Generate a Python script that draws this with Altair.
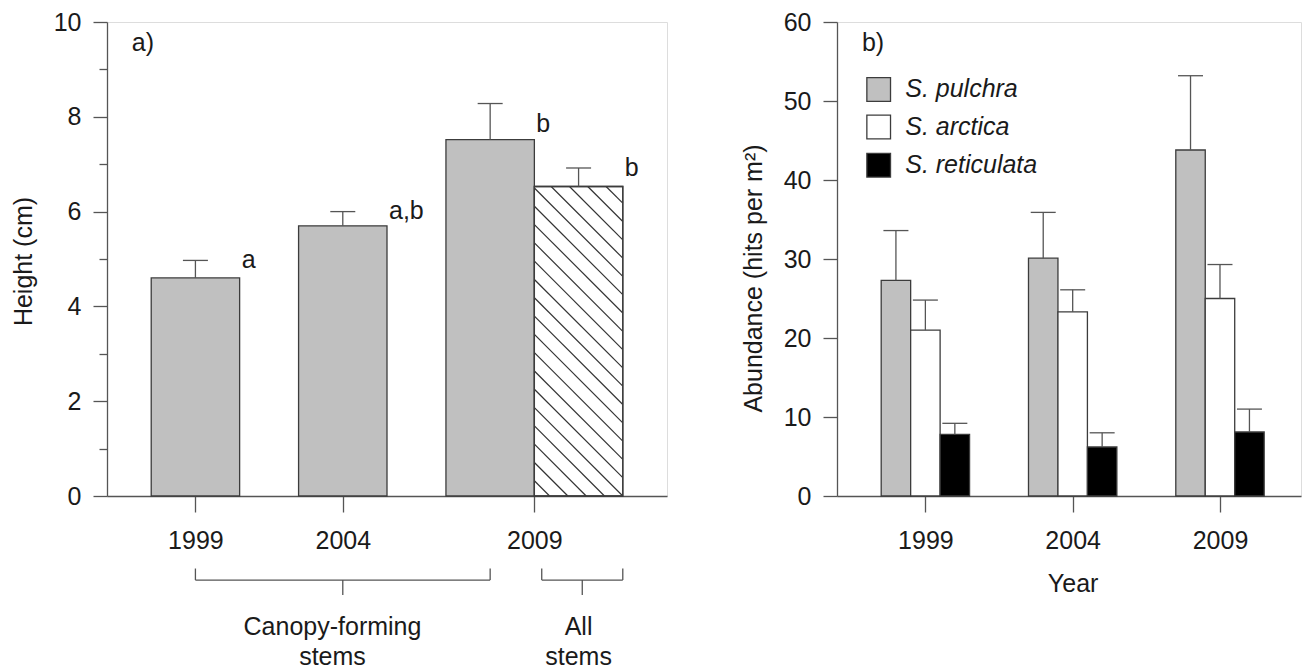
import altair as alt
import pandas as pd
import numpy as np

FONT = "Liberation Sans"

# ---------------- Panel a) data ----------------
a_years = ["1999", "2004", "2009", "2009"]
a_stems = ["Canopy-forming", "Canopy-forming", "Canopy-forming", "All"]
a_pos = [1.0, 2.0, 3.0, 3.6]
a_height = [4.60, 5.70, 7.52, 6.53]
a_se = [0.37, 0.30, 0.76, 0.39]
a_letters = ["a", "a,b", "b", "b"]
a_letter_y = [4.97, 6.02, 7.84, 6.91]
a_hatched = [False, False, False, True]
a_tick_pos = [1.0, 2.0, 3.3]
a_tick_lab = ["1999", "2004", "2009"]
a_group_name = [["Canopy-forming", "stems"], ["All", "stems"]]
a_group_from = [1.0, 3.35]
a_group_to = [3.0, 3.9]
a_group_mid = [2.0, 3.625]
a_group_text_x = [1.93, 3.6]

# ---------------- Panel b) data ----------------
b_years = ["1999", "2004", "2009"]
b_species = ["S. pulchra", "S. arctica", "S. reticulata"]
b_pulchra = [27.3, 30.1, 43.8]
b_pulchra_se = [6.3, 5.8, 9.4]
b_arctica = [21.0, 23.3, 25.0]
b_arctica_se = [3.8, 2.8, 4.3]
b_reticulata = [7.8, 6.2, 8.1]
b_reticulata_se = [1.4, 1.8, 2.9]

# ---------------- layout / style ----------------
W_A, W_B, H = 560, 464, 474
XA = [0.4, 4.2]
XB = [0.4, 3.55]
YA = [0, 10]
YB = [0, 60]
BAR_A = 0.6
BAR_B = 0.2
CAP_PX = 12.5
HATCH_PX = 18.3
GRAY = "#c0c0c0"
EDGE = "#3c3c3c"
AXC = "#555555"
TXT = "#1a1a1a"
B_FILLS = ["#c0c0c0", "#ffffff", "#000000"]

ppx_a = W_A / (XA[1] - XA[0])
ppx_b = W_B / (XB[1] - XB[0])
ppy_a = H / (YA[1] - YA[0])
ppy_b = H / (YB[1] - YB[0])


def y_axis(title, major, minor, tx, ty):
    return alt.Axis(
        title=title, values=list(np.arange(0, 1 + (major * 5 if major == 2 else 60), minor)),
        labelExpr=f"datum.value % {major} === 0 ? datum.label : ''",
        tickSize={"condition": {"test": f"datum.value % {major} === 0", "value": 14}, "value": 8},
        labelPadding=12, labelFontSize=25, labelFont=FONT, labelColor=TXT,
        titleFontSize=25, titleFont=FONT, titleFontWeight="normal", titleColor=TXT,
        titleX=tx, titleY=ty, titleAngle=-90, titleBaseline="middle", titleAlign="center",
        domainColor=AXC, tickColor=AXC, domainWidth=1.3, tickWidth=1.3, grid=False,
    )


def x_axis(tick_pos, tick_lab, title=None, tx=None, ty=None):
    expr = " : ".join(f"datum.value === {p} ? '{l}'" for p, l in zip(tick_pos, tick_lab)) + " : ''"
    kw = dict(title=title, values=tick_pos, labelExpr=expr, tickSize=16, labelPadding=16,
              labelFontSize=25, labelFont=FONT, labelColor=TXT, domainColor=AXC, tickColor=AXC,
              domainWidth=1.3, tickWidth=1.3, grid=False, labelFlush=False)
    if title:
        kw.update(titleFontSize=25, titleFont=FONT, titleFontWeight="normal", titleColor=TXT,
                  titleX=tx, titleY=ty, titleBaseline="middle", titleAlign="center")
    return alt.Axis(**kw)


# ---------------- Panel a) ----------------
dfa = pd.DataFrame(dict(year=a_years, stems=a_stems, pos=a_pos, h=a_height, se=a_se,
                        letter=a_letters, ly=a_letter_y, hatched=a_hatched))
dfa["x0"] = dfa["pos"] - BAR_A / 2
dfa["x1"] = dfa["pos"] + BAR_A / 2
dfa["top"] = dfa["h"] + dfa["se"]
dfa["c0"] = dfa["pos"] - CAP_PX / ppx_a
dfa["c1"] = dfa["pos"] + CAP_PX / ppx_a
dfa["fill"] = np.where(dfa["hatched"], "#ffffff", GRAY)

xa = alt.X("x0:Q", scale=alt.Scale(domain=XA, nice=False, zero=False),
           axis=x_axis(a_tick_pos, a_tick_lab))
ya = alt.Y("h:Q", scale=alt.Scale(domain=YA, nice=False),
           axis=y_axis("Height (cm)", 2, 1, 23 - 107, 260.5 - 21.5))

base_a = alt.Chart(dfa)
bars_a = base_a.mark_rect(stroke=EDGE, strokeWidth=1.3).encode(
    x=xa, x2="x1:Q", y=ya, y2=alt.datum(0), fill=alt.Fill("fill:N", scale=None))

# hatch lines for the hatched bar(s), derived from the bar extents
hatch_rows = []
for _, r in dfa[dfa["hatched"]].iterrows():
    wpx = (r["x1"] - r["x0"]) * ppx_a
    hpx = r["h"] * ppy_a
    for k in range(int(np.floor(-wpx / HATCH_PX)), int(np.ceil(hpx / HATCH_PX)) + 1):
        c = k * HATCH_PX
        if c <= -wpx or c >= hpx:
            continue
        u0, u1 = max(-wpx, c - hpx), min(0.0, c)
        hatch_rows.append(dict(hx=r["x1"] + u0 / ppx_a, hy=(c - u0) / ppy_a,
                               hx2=r["x1"] + u1 / ppx_a, hy2=(c - u1) / ppy_a))
hatch = alt.Chart(pd.DataFrame(hatch_rows)).mark_rule(color="#333333", strokeWidth=1.2).encode(
    x="hx:Q", x2="hx2:Q", y="hy:Q", y2="hy2:Q")
outline_a = base_a.transform_filter("datum.hatched").mark_rect(
    fill=None, stroke=EDGE, strokeWidth=1.3).encode(x="x0:Q", x2="x1:Q", y="h:Q", y2=alt.datum(0))

err_a = base_a.mark_rule(color=AXC, strokeWidth=1.3).encode(x="pos:Q", y="h:Q", y2="top:Q")
cap_a = base_a.mark_rule(color=AXC, strokeWidth=1.3).encode(x="c0:Q", x2="c1:Q", y="top:Q")
letters_a = base_a.mark_text(align="left", baseline="middle", dx=2, fontSize=25, font=FONT,
                             color=TXT).encode(x="x1:Q", y="ly:Q", text="letter:N")

# group brackets below the axis
BR_Y, BR_END, BR_MID = -1.774, -1.53, -2.09
br = pd.DataFrame(dict(x0=a_group_from, x1=a_group_to, mid=a_group_mid, tx=a_group_text_x,
                       line1=[g[0] for g in a_group_name], line2=[g[1] for g in a_group_name]))
br["by"], br["be"], br["bm"] = BR_Y, BR_END, BR_MID
br["t1"], br["t2"] = -2.77, -3.40
base_br = alt.Chart(br)
br_h = base_br.mark_rule(color=AXC, strokeWidth=1.3).encode(x="x0:Q", x2="x1:Q", y="by:Q")
br_l = base_br.mark_rule(color=AXC, strokeWidth=1.3).encode(x="x0:Q", y="by:Q", y2="be:Q")
br_r = base_br.mark_rule(color=AXC, strokeWidth=1.3).encode(x="x1:Q", y="by:Q", y2="be:Q")
br_m = base_br.mark_rule(color=AXC, strokeWidth=1.3).encode(x="mid:Q", y="by:Q", y2="bm:Q")
br_t1 = base_br.mark_text(fontSize=25, font=FONT, color=TXT, baseline="middle").encode(
    x="tx:Q", y="t1:Q", text="line1:N")
br_t2 = base_br.mark_text(fontSize=25, font=FONT, color=TXT, baseline="middle").encode(
    x="tx:Q", y="t2:Q", text="line2:N")

lab_a = alt.Chart(pd.DataFrame(dict(x=[0.568], y=[9.55], t=["a)"]))).mark_text(
    align="left", baseline="middle", fontSize=25, font=FONT, color=TXT).encode(
    x="x:Q", y="y:Q", text="t:N")

panel_a = alt.layer(bars_a, hatch, outline_a, err_a, cap_a, letters_a,
                    br_h, br_l, br_r, br_m, br_t1, br_t2, lab_a).properties(width=W_A, height=H)

# ---------------- Panel b) ----------------
b_vals = [b_pulchra, b_arctica, b_reticulata]
b_ses = [b_pulchra_se, b_arctica_se, b_reticulata_se]
rows = []
for si, sp in enumerate(b_species):
    for yi, yr in enumerate(b_years):
        p = yi + 1 + (si - 1) * BAR_B
        rows.append(dict(species=sp, year=yr, pos=p, v=b_vals[si][yi], se=b_ses[si][yi]))
dfb = pd.DataFrame(rows)
dfb["x0"] = dfb["pos"] - BAR_B / 2
dfb["x1"] = dfb["pos"] + BAR_B / 2
dfb["top"] = dfb["v"] + dfb["se"]
dfb["c0"] = dfb["pos"] - CAP_PX / ppx_b
dfb["c1"] = dfb["pos"] + CAP_PX / ppx_b

color_b = alt.Fill("species:N", scale=alt.Scale(domain=b_species, range=B_FILLS), legend=None)
xb = alt.X("x0:Q", scale=alt.Scale(domain=XB, nice=False, zero=False),
           axis=x_axis([1.0, 2.0, 3.0], b_years, "Year", 1072.4 - 836.8, 583 - 495.5))
yb = alt.Y("v:Q", scale=alt.Scale(domain=YB, nice=False),
           axis=y_axis("Abundance (hits per m²)", 10, 5, 753 - 836.8, 277.5 - 21.5))
base_b = alt.Chart(dfb)
bars_b = base_b.mark_rect(stroke=EDGE, strokeWidth=1.3).encode(
    x=xb, x2="x1:Q", y=yb, y2=alt.datum(0), fill=color_b)
err_b = base_b.mark_rule(color=AXC, strokeWidth=1.3).encode(x="pos:Q", y="v:Q", y2="top:Q")
cap_b = base_b.mark_rule(color=AXC, strokeWidth=1.3).encode(x="c0:Q", x2="c1:Q", y="top:Q")

leg = pd.DataFrame(dict(species=b_species, sx=0.683, tx=0.863, ly=[51.46, 46.71, 41.87]))
leg_sq = alt.Chart(leg).mark_square(size=560, stroke=EDGE, strokeWidth=1.3, opacity=1).encode(
    x="sx:Q", y="ly:Q", fill=color_b)
leg_tx = alt.Chart(leg).mark_text(align="left", baseline="middle", fontSize=25, font=FONT,
                                  fontStyle="italic", color=TXT).encode(
    x="tx:Q", y="ly:Q", text="species:N")
lab_b = alt.Chart(pd.DataFrame(dict(x=[0.569], y=[57.28], t=["b)"]))).mark_text(
    align="left", baseline="middle", fontSize=25, font=FONT, color=TXT).encode(
    x="x:Q", y="y:Q", text="t:N")

panel_b = alt.layer(bars_b, err_b, cap_b, leg_sq, leg_tx, lab_b).properties(width=W_B, height=H)

chart = alt.hconcat(panel_a, panel_b, spacing=170, bounds="flush").properties(
    padding={"left": 10, "top": 9, "right": 0, "bottom": 0}
).configure_view(stroke=None).configure(background="white")

chart.save("out.html", embed_options={"renderer": "svg", "actions": False})
